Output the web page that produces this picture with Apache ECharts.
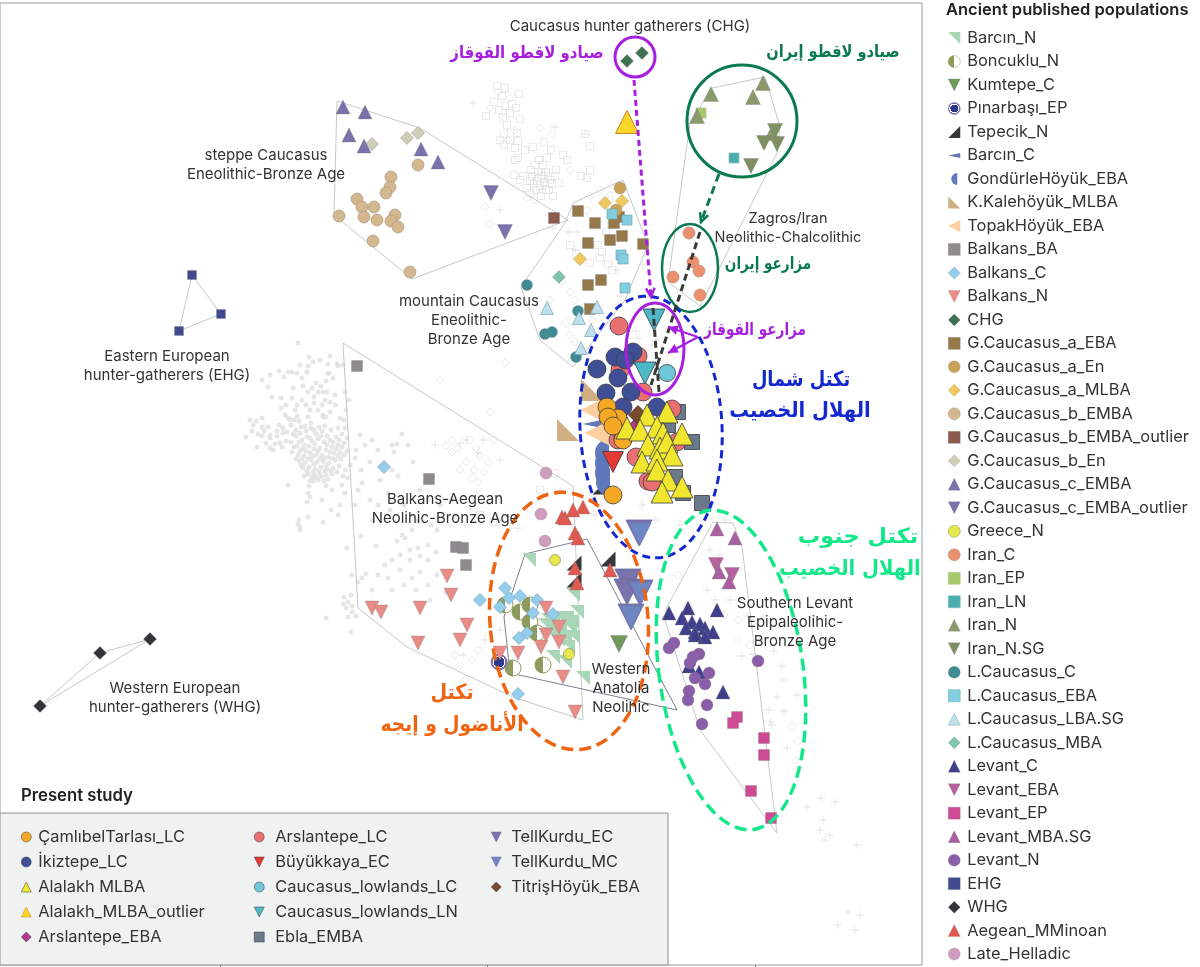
<!DOCTYPE html>
<html><head><meta charset="utf-8">
<style>html,body{margin:0;padding:0;background:#fff}#c{width:1200px;height:967px}</style>
<script src="https://cdn.jsdelivr.net/npm/echarts@6/dist/echarts.min.js"></script>
</head><body><div id="c"></div>
<script>
// ---- data: PCA positions (x to the right, y downward) ----
const grayDots=[[298,343],[309,357],[308,366],[330,356],[328,364],[337,364],[307,372],[329,373],[338,366],[343,365],[279,371],[288,372],[292,372],[297,373],[302,378],[326,381],[316,383],[321,386],[328,374],[333,378],[268,387],[293,388],[308,392],[318,392],[323,392],[327,392],[314,397],[330,402],[325,400],[292,398],[295,410],[302,400],[306,405],[310,410],[318,410],[335,405],[345,392],[330,412],[323,415],[326,417],[297,416],[308,417],[285,415],[288,418],[311,423],[323,417],[299,421],[294,420],[290,420],
[250,420],[256,421],[262,418],[253,425],[262,427],[264,431],[268,427],[277,431],[262,436],[270,435],[277,436],[246,437],[279,425],[283,428],[257,447],[270,448],[280,443],[270,438],[273,450],[283,433],
[291,425],[296,430],[301,427],[306,431],[311,428],[316,434],[322,431],[327,436],[296,436],[302,440],[307,437],[312,441],[318,439],[324,442],[330,440],[336,437],[342,434],[345,428],[291,442],[297,446],[303,449],[309,446],[314,449],[320,448],[326,450],[332,447],[338,445],[344,443],[292,452],[298,455],[304,456],[310,453],[316,455],[322,455],[328,457],[334,453],[340,452],[347,451],[299,461],[305,463],[311,460],[317,462],[323,461],[329,463],[335,460],[341,459],[303,468],[309,467],[315,469],[321,467],[327,469],[333,468],[339,466],[308,474],[314,475],[320,474],[326,475],[332,474],[318,480],[324,481],[313,481],[345,470],[348,478],[343,476],
[288,485],[309,486],[312,478],[326,486],[332,490],[342,485],[345,493],[308,493],[310,497],[307,502],[322,500],[340,505],[308,517],[338,515],[323,522],[299,520],[331,510],[355,505],[358,490],[362,483],[300,530],[300,527],[298,524],[350,465],[355,458],[361,470],[372,440],[365,445],[360,435],[356,450],[378,450],[392,445],[380,480],[370,462],[392,470],[402,434],[397,444],[394,452],[408,445],[413,462],[398,476],[388,493],[420,490],[428,500],[404,505],[370,500],[378,505],[372,520],[390,510],[418,521],[412,530],[405,538],[437,530],[431,525],[440,505],[455,515],
[347,548],[361,536],[376,546],[397,541],[402,535],[410,550],[418,548],[410,560],[420,556],[428,545],[428,560],[436,552],[437,575],[420,572],[412,578],[400,555],[392,560],[385,565],[378,575],[366,574],[362,578],[358,582],[372,590],[388,578],[392,590],[400,570],[404,585],[416,590],[428,585],[430,600],[446,592],[352,575],[344,597],[348,602],[352,606],[346,608],[352,612],[356,616],[348,617],[343,604],[351,595],[326,618],[351,632],
[300,433],[305,426],[314,430],[319,427],[325,426],[331,430],[338,428],[293,434],[299,442],[304,445],[310,438],[315,444],[321,436],[327,445],[333,442],[339,440],[347,438],[294,447],[300,451],[306,451],[312,457],[318,451],[324,458],[330,452],[336,449],[342,447],[296,459],[302,459],[308,459],[314,464],[320,459],[326,465],[332,458],[338,456],[344,455],[301,465],[307,471],[313,472],[319,471],[325,471],[331,471],[337,472],[316,477],[322,477],[328,479],[304,476],[310,481],[287,432],[286,441],[282,447],[275,444],[266,443],[258,434],[252,431],[297,405],[314,403],[322,405],[286,405],[281,398],[313,362],[320,360],[300,365],[303,386],[312,388],[335,395],[340,418],[346,410],[344,420],[349,400],[284,377],[270,375],[262,380],[272,397],[281,408]];
const graySquares=[[497,86],[505,88],[505,106],[486,116],[507,125],[504,134],[517,133],[520,119],[516,108],[510,113],[494,102],[502,96],[519,94],[500,140],[504,145],[518,141],[503,118],[544,142],[551,150],[585,134],[590,146],[563,155],[567,160],[525,150],[533,147],[515,160],[518,158],[556,170],[550,180],[545,185],[538,178],[530,181],[541,172],[532,176],[536,190],[549,190],[553,196],[541,196],[527,188],[523,176],[559,183],[543,165],[546,172],[555,176],[535,165],[538,172],[590,170],[587,178],[581,176],[611,225],[606,232],[598,245],[600,258],[570,245],[576,254],[608,264],[602,252],[590,263],[612,270],[480,515],[493,522],[540,490],[555,473],
[542,176],[537,181],[544,182],[548,176],[534,184],[540,186],[546,190],[552,184],[531,170],[539,160],[547,158],[530,193],[520,180],[514,175],[512,104],[499,110],[510,140],[515,148]];
const grayDiamonds=[[498,92],[510,98],[505,118],[490,108],[515,130],[508,140],[540,128],[552,134],[570,170],[527,198],[534,200],[490,224],[485,207],[600,190],[610,195],[615,183],[590,196],[587,210],[610,200],[562,282],[570,292],[575,300],[585,306],[580,320],[592,320],[566,323],[570,335],[575,342],[550,300],[505,363],[440,380],[490,412],[460,470],[472,478],[478,482],[480,456],[452,440],[470,440],[688,605],[678,575],[704,640],[724,615],[738,620],[737,640],[750,645],[792,726],[798,741],[796,760],[590,510],[472,660],[460,665],[478,650],[465,680],[455,655],[500,670],
[452,452],[458,448],[446,446],[466,462],[474,470],[484,472],[488,462],[476,448],[494,440]];
const grayCrosses=[[473,103],[555,127],[585,134],[553,228],[500,210],[575,213],[577,232],[568,232],[608,243],[575,250],[620,296],[617,270],[643,265],[636,331],[652,345],[638,338],[646,350],[656,340],[460,443],[478,453],[483,440],[500,460],[435,445],[466,440],[453,500],[465,525],[500,520],[518,528],[725,520],[710,550],[720,555],[707,590],[724,588],[730,600],[715,600],[748,616],[760,640],[742,656],[752,654],[774,651],[782,666],[783,680],[777,697],[784,711],[769,710],[770,722],[772,725],[797,695],[787,748],[807,807],[821,798],[835,802],[823,820],[830,835],[820,830],[825,840],[857,845],[848,912],[860,915],[838,925],[855,930],[500,630],[508,660],[463,655],[485,640],[560,490],[595,515],[470,510],[642,505],[600,505],[615,570],[655,520],[680,525]];

const hull_Steppe=[[337,101],[420,128],[568,220],[412,279],[334,215],[337,101]];
const hull_Mountain=[[623,180],[648,245],[625,300],[573,367],[540,340],[521,287],[565,223],[573,203],[623,180]];
const hull_Zagros=[[712,88],[765,77],[780,127],[777,153],[717,273],[700,306],[668,282],[690,123],[712,88]];
const hull_Levant=[[713,522],[733,523],[742,547],[777,833],[700,730],[665,620],[667,607],[713,522]];
const hull_Balkans=[[343,343],[573,486],[583,720],[513,697],[407,647],[358,608],[343,343]];
const hull_Anatolia=[[525,554],[587,539],[677,710],[510,673],[504,617],[525,554]];
const hull_EHG=[[192,275],[221,314],[179,331],[192,275]];
const hull_WHG=[[150,639],[100,653],[40,706],[150,639]];

const Barcin_N=[[529,560],[573,595],[577,612],[565,622],[550,627],[573,637],[565,637],[555,633],[553,657],[565,662],[583,678],[558,640],[568,647],[545,625],[548,620],[553,622],[560,618],[567,618],[572,622],[550,634],[560,628],[570,628],[560,635]];
const Boncuklu_N=[[505,605],[520,612],[530,605],[530,622],[537,633],[543,665],[513,668]];
const Kumtepe_C=[[619,644]];
const Pinarbasi_EP=[[499,662]];
const Tepecik_N=[[574,563],[574,580],[608,559],[600,487]];
const Barcin_C=[[592,424]];
const Gondurle_EBA=[[602,453],[602,463],[602,473],[603,482]];
const KKalehoyuk_MLBA=[[592,390],[568,430]];
const Topak_EBA=[[593,410],[597,433]];
const Balkans_BA=[[357,366],[429,479],[456,547],[463,548],[466,565]];
const Balkans_C=[[384,467],[480,600],[505,588],[520,596],[509,598],[500,607],[537,600],[553,614],[527,633],[519,638],[518,694],[533,613]];
const Balkans_N=[[372,608],[381,612],[420,608],[447,576],[451,595],[467,625],[460,640],[418,643],[518,653],[541,647],[559,642],[559,627],[546,608],[546,635],[563,677],[575,712],[500,653]];
const CHG=[[627,61],[642,53]];
const GCa_EBA=[[578,211],[595,223],[614,223],[619,217],[588,243],[610,240],[622,236],[643,244],[601,280],[588,285],[590,309]];
const GCa_En=[[620,188],[616,210]];
const GCa_MLBA=[[605,203],[622,201],[580,259]];
const GCb_EMBA=[[418,165],[391,177],[390,187],[386,193],[357,199],[362,207],[374,207],[364,217],[339,216],[377,220],[395,215],[391,221],[398,227],[373,241],[410,272]];
const GCb_outlier=[[554,218]];
const GCb_En=[[407,138],[418,133],[372,144]];
const GCc_EMBA=[[343,107],[365,112],[349,135],[364,146],[421,149],[438,162]];
const GCc_outlier=[[491,193],[505,232]];
const Greece_N=[[555,560],[569,654]];
const Iran_C=[[689,233],[693,262],[699,271],[673,277],[700,295]];
const Iran_EP=[[701,113]];
const Iran_LN=[[734,158]];
const Iran_N=[[763,83],[711,94],[753,97],[697,116],[772,133]];
const Iran_NSG=[[775,131],[764,143],[777,144],[751,166]];
const LC_C=[[527,285],[578,311],[545,334],[552,332],[576,357]];
const LC_EBA=[[612,214],[627,220],[621,255],[623,259],[625,288]];
const LC_LBA=[[547,308],[597,307],[579,318],[591,330],[581,348]];
const LC_MBA=[[559,277]];
const Levant_C=[[669,613],[688,608],[717,610],[682,618],[692,622],[700,624],[686,628],[695,632],[705,628],[713,632],[705,637],[695,635],[689,666],[699,672],[723,692]];
const Levant_EBA=[[716,565],[732,575]];
const Levant_EP=[[737,717],[733,723],[764,738],[764,755],[751,791],[771,818]];
const Levant_MBA=[[717,529],[735,538],[719,572],[729,582]];
const Levant_N=[[674,643],[669,648],[699,654],[693,657],[690,663],[709,673],[695,678],[705,684],[689,691],[688,700],[707,705],[702,724],[758,661]];
const EHG=[[192,275],[221,314],[179,331]];
const WHG=[[150,639],[100,653],[40,706]];
const Aegean=[[562,517],[565,518],[573,510],[583,507],[575,533],[578,538],[575,568],[577,583],[610,570]];
const Late_Helladic=[[546,473],[541,514],[545,541]];

const Camlibel_LC=[[623,440],[607,407],[618,418],[608,417],[613,426],[613,495]];
const Ikiztepe_LC=[[633,352],[615,357],[625,360],[597,369],[618,378],[606,393],[631,392],[623,407],[657,407],[623,438]];
const Alalakh_MLBA=[[647,415],[667,412],[627,428],[640,430],[657,427],[663,433],[682,434],[648,445],[660,448],[667,442],[672,455],[642,462],[657,460],[657,470],[668,480],[682,487],[662,492]];
const Alalakh_outlier=[[627,122]];
const Arslantepe_EBA=[[636,425]];
const Arslantepe_LC=[[619,326],[638,356],[620,370],[643,392],[672,409],[618,440],[636,457],[677,442],[648,481],[652,482]];
const Buyukkaya_EC=[[613,462]];
const Lowlands_LC=[[667,373]];
const Lowlands_LN=[[654,320],[645,373]];
const Ebla_EMBA=[[678,412],[692,442],[702,503],[668,425],[675,477],[683,493]];
const TellKurdu_EC=[[639,533],[628,582],[627,592],[640,593],[631,617]];
const TellKurdu_MC=[[640,534],[641,593],[631,617]];
const Titris_EBA=[[638,415]];

const ancientNames=['Barcın_N','Boncuklu_N','Kumtepe_C','Pınarbaşı_EP','Tepecik_N','Barcın_C','GondürleHöyük_EBA','K.Kalehöyük_MLBA','TopakHöyük_EBA','Balkans_BA','Balkans_C','Balkans_N','CHG','G.Caucasus_a_EBA','G.Caucasus_a_En','G.Caucasus_a_MLBA','G.Caucasus_b_EMBA','G.Caucasus_b_EMBA_outlier','G.Caucasus_b_En','G.Caucasus_c_EMBA','G.Caucasus_c_EMBA_outlier','Greece_N','Iran_C','Iran_EP','Iran_LN','Iran_N','Iran_N.SG','L.Caucasus_C','L.Caucasus_EBA','L.Caucasus_LBA.SG','L.Caucasus_MBA','Levant_C','Levant_EBA','Levant_EP','Levant_MBA.SG','Levant_N','EHG','WHG','Aegean_MMinoan','Late_Helladic'];
const studyCol1=['ÇamlıbelTarlası_LC','İkiztepe_LC','Alalakh MLBA','Alalakh_MLBA_outlier','Arslantepe_EBA'];
const studyCol2=['Arslantepe_LC','Büyükkaya_EC','Caucasus_lowlands_LC','Caucasus_lowlands_LN','Ebla_EMBA'];
const studyCol3=['TellKurdu_EC','TellKurdu_MC','TitrişHöyük_EBA'];

// ---- styles ----
const UP='triangle', DN='path://M0 0L10 0L5 10Z', SQ='rect', CI='circle', DI='diamond';
const NE='path://M0 0L10 0L10 10Z', SE='path://M10 0L10 10L0 10Z', SW='path://M0 0L10 10L0 10Z', LF='path://M0 5L10 0L10 10Z';
const WEDGE='path://M0 3L14 0L14 6Z', HALF='path://M10 0A10 10 0 0 0 10 20Z';
const split=(a,b)=>({type:'linear',x:0,y:0,x2:1,y2:0,colorStops:[{offset:0,color:a},{offset:.5,color:a},{offset:.5,color:b},{offset:1,color:b}]});
const ring={type:'radial',x:.5,y:.5,r:.5,colorStops:[{offset:0,color:'#2c3a90'},{offset:.62,color:'#2c3a90'},{offset:.62,color:'#fff'},{offset:.78,color:'#fff'},{offset:.78,color:'#7b6fb6'},{offset:1,color:'#7b6fb6'}]};
const A='rgba(120,120,120,.45)', D='#3a3a44';
const S=[
 ['Barcın_N',Barcin_N,NE,14,'#a9d6b6','transparent',1],
 ['Boncuklu_N',Boncuklu_N,CI,16,split('#8d9c5c','#fff'),'#8d9c5c',1],
 ['Kumtepe_C',Kumtepe_C,DN,17,'#6f9a5c',A,.7],
 ['Pınarbaşı_EP',Pinarbasi_EP,CI,16,ring,'#7b6fb6',.7],
 ['Tepecik_N',Tepecik_N,SE,15,'#37373b','transparent',.7],
 ['Barcın_C',Barcin_C,WEDGE,19,'#6478b5','transparent',.7],
 ['GondürleHöyük_EBA',Gondurle_EBA,HALF,28,'#5f78bb','transparent',.7],
 ['K.Kalehöyük_MLBA',KKalehoyuk_MLBA,SW,22,'#cfae82','transparent',.7],
 ['TopakHöyük_EBA',Topak_EBA,LF,25,'#fdcfa0','transparent',.7],
 ['Balkans_BA',Balkans_BA,SQ,11,'#8f8a8e',A,.7],
 ['Balkans_C',Balkans_C,DI,13,'#95cdec','#7fa8c0',.7],
 ['Balkans_N',Balkans_N,DN,14,'#e88c85',A,.7],
 ['CHG',CHG,DI,13,'#3f7050',A,.7],
 ['G.Caucasus_a_EBA',GCa_EBA,SQ,11,'#96794a',A,.7],
 ['G.Caucasus_a_En',GCa_En,CI,12,'#c9a257',A,.7],
 ['G.Caucasus_a_MLBA',GCa_MLBA,DI,13,'#f2c860','#c0a060',.7],
 ['G.Caucasus_b_EMBA',GCb_EMBA,CI,12,'#d3b78f','#aa9a80',.7],
 ['G.Caucasus_b_EMBA_outlier',GCb_outlier,SQ,11,'#8c5a4c',A,.7],
 ['G.Caucasus_b_En',GCb_En,DI,13,'#cfcdb8','#a8a89a',.7],
 ['G.Caucasus_c_EMBA',GCc_EMBA,UP,14,'#7a72ad',A,.7],
 ['G.Caucasus_c_EMBA_outlier',GCc_outlier,DN,15,'#7a72ad',A,.7],
 ['Greece_N',Greece_N,CI,11,'#e6e84f','#8a8a50',.7],
 ['Iran_C',Iran_C,CI,12,'#ec9070','#b88a70',.7],
 ['Iran_EP',Iran_EP,SQ,10,'#a6c96a','#b0c090',.7],
 ['Iran_LN',Iran_LN,SQ,10,'#4cadaf','#8abbbb',.7],
 ['Iran_N',Iran_N,UP,15,'#8a9a6a',A,.7],
 ['Iran_N.SG',Iran_NSG,DN,15,'#7f9060',A,.7],
 ['L.Caucasus_C',LC_C,CI,11,'#3f8c95',A,.7],
 ['L.Caucasus_EBA',LC_EBA,SQ,10,'#83cfe0','#70a8b8',.7],
 ['L.Caucasus_LBA.SG',LC_LBA,UP,13,'#bde0ea','#80a8b4',.7],
 ['L.Caucasus_MBA',LC_MBA,DI,13,'#7fc4a8',A,.7],
 ['Levant_C',Levant_C,UP,14,'#3f3f8c',A,.7],
 ['Levant_EBA',Levant_EBA,DN,15,'#b7619f',A,.7],
 ['Levant_EP',Levant_EP,SQ,11,'#cf4a94',A,.7],
 ['Levant_MBA.SG',Levant_MBA,UP,14,'#aa60a0',A,.7],
 ['Levant_N',Levant_N,CI,12,'#8a5ea8',A,.7],
 ['EHG',EHG,SQ,9,'#3f4a8f',A,.7],
 ['WHG',WHG,DI,13,'#333338',A,.7],
 ['Aegean_MMinoan',Aegean,UP,14,'#e05a50',A,.7],
 ['Late_Helladic',Late_Helladic,CI,12,'#cf9cc0',A,.7],
 ['TellKurdu_EC',TellKurdu_EC,DN,26,'#7a72ad','#6a6a9c',.8],
 ['TellKurdu_MC',TellKurdu_MC,DN,22,'#6f86c4','#6f7ab0',.8],
 ['Ebla_EMBA',Ebla_EMBA,SQ,15,'#6b7a8a',D,.8],
 ['Arslantepe_EBA',Arslantepe_EBA,DI,14,'#b53a8c',D,.8],
 ['Arslantepe_LC',Arslantepe_LC,CI,18,'#ea6f70',D,.8],
 ['İkiztepe_LC',Ikiztepe_LC,CI,18,'#3f4f95',D,.8],
 ['ÇamlıbelTarlası_LC',Camlibel_LC,CI,18,'#f5a823',D,.8],
 ['Caucasus_lowlands_LC',Lowlands_LC,CI,17,'#6fc8d6',D,.8],
 ['Caucasus_lowlands_LN',Lowlands_LN,DN,22,'#4cb8c8',D,.8],
 ['Büyükkaya_EC',Buyukkaya_EC,DN,21,'#e53935',D,.8],
 ['TitrişHöyük_EBA',Titris_EBA,DI,19,'#7a4a2a',D,.8],
 ['Alalakh MLBA',Alalakh_MLBA,UP,22,'#f0e62e',D,.8],
 ['Alalakh_MLBA_outlier',Alalakh_outlier,UP,23,'#fbd52b','#c98a20',1]
];
const series=[];
const grayS=(name,data,sym,size,st)=>series.push({type:'scatter',name,data,symbol:sym,symbolSize:size,z:2,silent:true,itemStyle:st});
grayS('g1',grayDots,'circle',5,{color:'#e0e0e0'});
grayS('g2',graySquares,'rect',7,{color:'transparent',borderColor:'#e3e3e3',borderWidth:1});
grayS('g3',grayDiamonds,'diamond',8,{color:'transparent',borderColor:'#e3e3e3',borderWidth:1});
grayS('g4',grayCrosses,'path://M4.5 0L5.5 0L5.5 4.5L10 4.5L10 5.5L5.5 5.5L5.5 10L4.5 10L4.5 5.5L0 5.5L0 4.5L4.5 4.5Z',8,{color:'#dcdcdc'});
[hull_Steppe,hull_Mountain,hull_Zagros,hull_Levant,hull_Balkans,hull_EHG,hull_WHG].forEach((h,i)=>series.push({type:'line',name:'hull'+i,data:h,symbol:'none',z:3,silent:true,lineStyle:{color:'#c8c8c8',width:1}}));
S.forEach((s,i)=>series.push({type:'scatter',name:s[0],data:s[1],symbol:s[2],symbolSize:s[3],symbolKeepAspect:true,z:5+i*0.01,silent:true,clip:false,
 itemStyle:{color:s[4],borderColor:s[5],borderWidth:s[6],opacity:1}}));
series.push({type:'line',name:'hullA',data:hull_Anatolia,symbol:'none',z:4.9,silent:true,lineStyle:{color:'#7b8191',width:1}});

// ---- annotations ----
const PUR='#a81fe0',GRN='#0b7a4e',BLU='#1428d0',ORG='#ee6410',LGR='#12e88a',DK='#3a3a3a';
const AR='"DejaVu Sans"',LT='Inter';
const notes=[
 {k:'e',c:[635,57],r:[20,20],a:0,col:PUR,w:3},
 {k:'e',c:[742,121],r:[55,56],a:0,col:GRN,w:3},
 {k:'e',c:[690,268],r:[28,44],a:0,col:GRN,w:2.5},
 {k:'e',c:[655,349],r:[29,46],a:0,col:PUR,w:3},
 {k:'e',c:[651,427],r:[71,131],a:3,col:BLU,w:3,dash:[8,5]},
 {k:'e',c:[569,621],r:[79,129],a:5,col:ORG,w:3.5,dash:[12,6]},
 {k:'e',c:[731,670],r:[72,161],a:8,col:LGR,w:3.5,dash:[12,6]},
 {k:'a',p:[634,80],q:[651,297],col:PUR,w:3,dash:[6,4],head:1},
 {k:'a',p:[719,174],q:[701,222],col:GRN,w:3,dash:[8,5],head:1},
 {k:'a',p:[700,232],q:[651,385],col:DK,w:3,dash:[7,4]},
 {k:'a',p:[653,308],q:[659,392],col:DK,w:3,dash:[7,4]},
 {k:'t2',p:[698,337],q:[668,327],col:PUR},
 {k:'t2',p:[698,337],q:[668,353],col:PUR},
 {k:'x',t:'Caucasus hunter gatherers (CHG)',c:[630,26],f:'15px '+LT,col:'#333'},
 {k:'x',t:'صيادو لاقطو القوقاز',c:[527,54],f:'bold 17px '+AR,col:PUR,sx:.88},
 {k:'x',t:'صيادو لاقطو إيران',c:[833,53],f:'bold 17px '+AR,col:GRN,sx:.86},
 {k:'x',t:'steppe Caucasus\nEneolithic-Bronze Age',c:[266,165],f:'15px '+LT,col:'#333',lh:19},
 {k:'x',t:'Zagros/Iran\nNeolithic-Chalcolithic',c:[788,228],f:'14.5px '+LT,col:'#333',lh:19},
 {k:'x',t:'مزارعو إيران',c:[768,265],f:'bold 17px '+AR,col:GRN,sx:.8},
 {k:'x',t:'mountain Caucasus\nEneolithic-\nBronze Age',c:[469,320],f:'15px '+LT,col:'#333',lh:19},
 {k:'x',t:'مزارعو القوقاز',c:[755,331],f:'bold 17px '+AR,col:PUR,sx:.8},
 {k:'x',t:'Eastern European\nhunter-gatherers (EHG)',c:[167,366],f:'15px '+LT,col:'#333',lh:19},
 {k:'x',t:'تكتل شمال',c:[801,381],f:'bold 21px '+AR,col:BLU,sx:.85},
 {k:'x',t:'الهلال الخصيب',c:[800,412],f:'bold 21px '+AR,col:BLU,sx:.93},
 {k:'x',t:'Balkans-Aegean\nNeolihic-Bronze Age',c:[445,509],f:'15px '+LT,col:'#333',lh:19},
 {k:'x',t:'تكتل جنوب',c:[858,538],f:'bold 21px '+AR,col:LGR,sx:1.07},
 {k:'x',t:'الهلال الخصيب',c:[850,570],f:'bold 21px '+AR,col:LGR,sx:.93},
 {k:'x',t:'Southern Levant\nEpipaleolihic-\nBronze Age',c:[795,622],f:'15px '+LT,col:'#333',lh:19},
 {k:'x',t:'Western\nAnatolia\nNeolihic',c:[621,688],f:'15px '+LT,col:'#333',lh:19},
 {k:'x',t:'Western European\nhunter-gatherers (WHG)',c:[175,698],f:'15px '+LT,col:'#333',lh:19},
 {k:'x',t:'تكتل',c:[452,694],f:'bold 21px '+AR,col:ORG,sx:.91},
 {k:'x',t:'الأناضول و إيجه',c:[452,726],f:'bold 21px '+AR,col:ORG,sx:.89}
];
function renderNote(params,api){
 const n=notes[api.value(2)];
 if(n.k==='e'){const c=api.coord(n.c),r=api.size(n.r);
  return {type:'ellipse',x:c[0],y:c[1],rotation:n.a*Math.PI/180,shape:{cx:0,cy:0,rx:r[0],ry:r[1]},style:{fill:'none',stroke:n.col,lineWidth:n.w,lineDash:n.dash||null}};}
 if(n.k==='a'||n.k==='t2'){const p=api.coord(n.p),q=api.coord(n.q),d=Math.atan2(q[1]-p[1],q[0]-p[0]);
  const L=n.k==='t2'?11:10,B=.45;
  const h1=[q[0]-L*Math.cos(d-B),q[1]-L*Math.sin(d-B)],h2=[q[0]-L*Math.cos(d+B),q[1]-L*Math.sin(d+B)];
  const kids=[{type:'line',shape:{x1:p[0],y1:p[1],x2:q[0],y2:q[1]},style:{stroke:n.col,lineWidth:n.k==='t2'?2:n.w,lineDash:n.dash||null}}];
  if(n.head)kids.push({type:'polyline',shape:{points:[h1,q,h2]},style:{fill:'none',stroke:n.col,lineWidth:2.5}});
  if(n.k==='t2')kids.push({type:'polygon',shape:{points:[h1,q,h2]},style:{fill:n.col}});
  return {type:'group',children:kids};}
 const c=api.coord(n.c);
 return {type:'text',x:c[0],y:c[1],scaleX:n.sx||1,style:{text:n.t,font:n.f,fill:n.col,align:'center',verticalAlign:'middle',textAlign:'center',textVerticalAlign:'middle',lineHeight:n.lh}};
}
series.push({type:'custom',name:'notes',z:20,silent:true,clip:false,coordinateSystem:'cartesian2d',renderItem:renderNote,encode:{x:0,y:1},
 data:notes.map((n,i)=>[(n.c||n.p)[0],(n.c||n.p)[1],i])});
series.push({type:'custom',name:'box',z:25,silent:true,clip:false,coordinateSystem:'cartesian2d',encode:{x:0,y:1},data:[[0,813]],
 renderItem:(p,api)=>{const a=api.coord([0,813]),b=api.coord([668,965]);return {type:'rect',shape:{x:a[0],y:a[1],width:b[0]-a[0],height:b[1]-a[1]},style:{fill:'#f0f1f1',stroke:'#8f8f8f',lineWidth:1}};}});

const LEG=(data,left,top,gap,size,w,pad)=>({data,left,top,padding:0,orient:'vertical',itemWidth:w,itemHeight:w,itemGap:gap,selectedMode:false,z:30,
 itemStyle:{borderWidth:.5},textStyle:{fontFamily:LT,fontSize:size,color:'#333',padding:[0,0,0,pad]}});
const option={animation:false,backgroundColor:'#fff',
 grid:{left:0,top:3,width:922,height:962,show:true,backgroundColor:'#fff',borderColor:'#9a9a9a',borderWidth:1},
 xAxis:{type:'value',min:0,max:922,splitLine:{show:false},axisLabel:{show:false},axisLine:{show:false},axisTick:{show:true,length:3,inside:false,customValues:[220,487,755],lineStyle:{color:'#777'}}},
 yAxis:{type:'value',min:3,max:965,inverse:true,splitLine:{show:false},axisLabel:{show:false},axisLine:{show:false},axisTick:{show:false}},
 title:[{text:'Ancient published populations',left:946,top:2,padding:0,textStyle:{fontFamily:LT,fontSize:16.5,fontWeight:600,color:'#222'}},
        {text:'Present study',left:21,top:787,padding:0,textStyle:{fontFamily:LT,fontSize:16.7,fontWeight:600,color:'#222'}}],
 legend:[LEG(ancientNames,948,30,7.49,16.4,12,2),LEG(studyCol1,21,829,9,16.4,10,2),LEG(studyCol2,254,829,9,16.4,10,6),LEG(studyCol3,491,829,9,16.4,10,5)],
 series};
const chart=echarts.init(document.getElementById('c'),null,{renderer:'canvas'});
chart.setOption(option);
</script></body></html>
